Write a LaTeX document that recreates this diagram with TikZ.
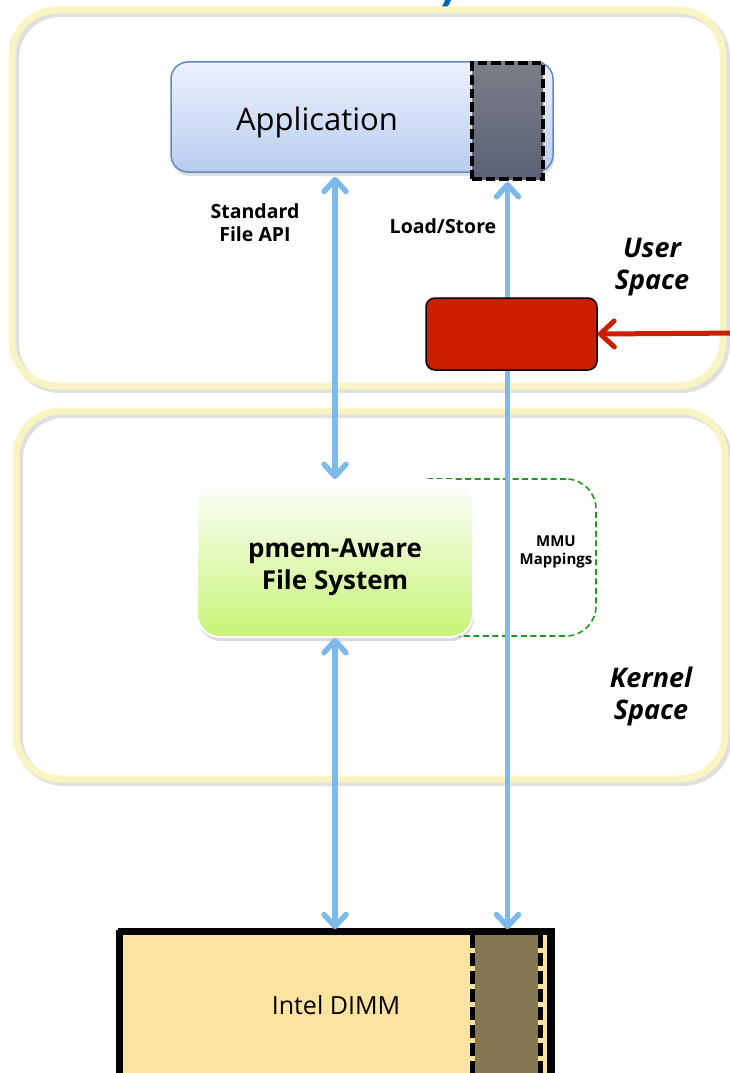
\documentclass[tikz,border=0pt]{standalone}
\usepackage{fontspec}
\setmainfont{Open Sans}
\usetikzlibrary{arrows.meta,shadows,calc}

\definecolor{frameyellow}{HTML}{FAF3C2}
\definecolor{appborder}{HTML}{6289C2}
\definecolor{apptop}{HTML}{EDF2FC}
\definecolor{appbottom}{HTML}{B9CCF0}
\definecolor{pmemtop}{HTML}{7B7E87}
\definecolor{pmembottom}{HTML}{5C6276}
\definecolor{arrowblue}{HTML}{7DB9E9}
\definecolor{alertred}{HTML}{CC1F00}
\definecolor{fsbottom}{HTML}{C6F475}
\definecolor{mmugreen}{HTML}{1F9A1F}
\definecolor{dimmfill}{HTML}{FCE3A0}
\definecolor{dimmdark}{HTML}{857752}
\definecolor{titleblue}{HTML}{0068B5}

\tikzset{
  spaceframe/.style={draw=frameyellow, line width=7pt, rounded corners=45pt},
  frameshadow/.style={draw=black, opacity=0.12, line width=8pt, rounded corners=45pt},
  appbox/.style={draw=appborder, line width=1.5pt, rounded corners=17pt,
    top color=apptop, bottom color=appbottom,
    drop shadow={shadow xshift=1pt, shadow yshift=-4pt, opacity=0.25}},
  pmemregion/.style={draw=black, line width=4pt, dash pattern=on 9.5pt off 4pt,
    top color=pmemtop, bottom color=pmembottom},
  fsbox/.style={draw=white, line width=2pt, rounded corners=23pt,
    top color=white, bottom color=fsbottom,
    drop shadow={shadow xshift=1pt, shadow yshift=-4pt, opacity=0.3}},
  mmubox/.style={draw=mmugreen, line width=1.6pt, dash pattern=on 6pt off 3.5pt,
    rounded corners=30pt},
  alertbox/.style={draw=black, line width=1.5pt, fill=alertred, rounded corners=9pt},
  biarrow/.style={draw=arrowblue, line width=5.5pt,
    {Straight Barb[length=12pt,width=22pt,round]}-{Straight Barb[length=12pt,width=22pt,round]}},
  alertarrow/.style={draw=alertred, line width=5pt,
    -{Straight Barb[length=14pt,width=26pt,round]}},
  dimmbox/.style={draw=black, line width=5pt, fill=dimmfill},
  dimmdash/.style={draw=black, line width=5pt, dash pattern=on 13pt off 5pt},
  smalllabel/.style={font=\bfseries\fontsize{19.5}{23}\selectfont, align=center},
  spacelabel/.style={font=\bfseries\itshape\fontsize{27}{32}\selectfont, align=center},
}

\begin{document}
\begin{tikzpicture}[x=1pt,y=-1pt]
\useasboundingbox (0,0) rectangle (730,1073);
\clip (0,0) rectangle (730,1073);

% tail of the heading glyph above the frames
\fill[titleblue] (436,11) .. controls (441,9) and (444,4) .. (445,0)
  -- (451,0) .. controls (449,6) and (445,11) .. (440,12) -- cycle;

% user space and kernel space frames
\draw[frameshadow] (15,13) rectangle (726,389);
\draw[spaceframe] (12,10) rectangle (723,386);
\draw[frameshadow] (19,414) rectangle (728,782);
\draw[spaceframe] (16,411) rectangle (725,779);

% MMU mapping region (partly behind the file system box)
\node[mmubox, minimum width=196pt, minimum height=157pt] (mmu) at (498,557.5) {};
\node[font=\bfseries\fontsize{15}{18}\selectfont, align=center] (mmulabel) at (556,552) {MMU\\Mappings};

% application with its mapped pmem region
\node[appbox, minimum width=382pt, minimum height=110pt] (app) at (362,117) {};
\node[font=\fontsize{31}{36}\selectfont] (applabel) at (317,122) {Application};
\node[pmemregion, minimum width=71pt, minimum height=116pt] (pmem) at (507.5,121) {};

% pmem-aware file system
\node[fsbox, minimum width=276pt, minimum height=157pt] (fs) at (335,558.5) {};
\node[align=center, font=\bfseries\fontsize{26}{32}\selectfont] (fslabel) at (335,567) {pmem-Aware\\File System};

% DIMM with its persistent region
\node[dimmbox, minimum width=429pt, minimum height=152pt] (dimm) at (335,1008.75) {};
\fill[dimmdark] (475,935) rectangle (538,1080);
\coordinate (dimmdashA) at (472.5,935);
\coordinate (dimmdashB) at (540.5,935);
\draw[dimmdash] (dimmdashA) -- ++(0,150);
\draw[dimmdash] (dimmdashB) -- ++(0,150);
\draw[draw=black, line width=5pt] (dimm.north west) -- (dimm.north east) -- (dimm.south east)
  (dimm.north west) -- (dimm.south west);
\node[font=\fontsize{25}{28}\selectfont] (dimmlabel) at (336,1005) {Intel DIMM};

% data paths
\draw[biarrow, shorten <=4pt] (app.south -| fs.north) -- (fs.north);
\draw[biarrow, shorten >=1pt] (fs.south) -- (fs.south |- dimm.north);
\draw[biarrow, shorten <=1pt, shorten >=1pt] (pmem.south) -- (pmem.south |- dimm.north);

% red box over the load/store path, with its incoming arrow
\node[alertbox, minimum width=171pt, minimum height=72pt] (alert) at (511.5,334) {};
\coordinate (alertsrc) at (745,333);
\draw[alertarrow] (alertsrc) -- (alert.east);

% labels
\node[smalllabel] (apilabel) at (255,223) {Standard\\File API};
\node[smalllabel] (lslabel) at (443,226) {Load/Store};
\node[spacelabel] (userlabel) at (652,267) {User\\Space};
\node[spacelabel] (kernellabel) at (651,696) {Kernel\\Space};
\end{tikzpicture}
\end{document}
